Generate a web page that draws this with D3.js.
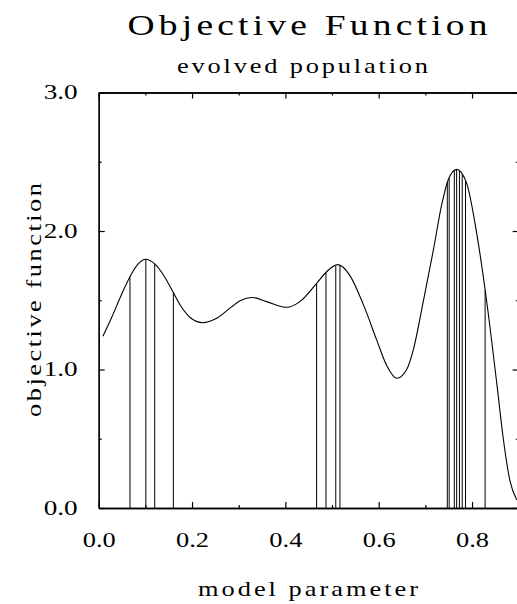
<!DOCTYPE html>
<html>
<head>
<meta charset="utf-8">
<script src="https://cdn.jsdelivr.net/npm/d3@7"></script>
<style>
  html, body { margin: 0; padding: 0; background: #fff; }
  svg { display: block; }
  text { font-family: "Liberation Serif", "DejaVu Serif", serif; fill: #000; }
</style>
</head>
<body>
<svg id="chart" width="517" height="604"></svg>
<script>
// ---- data ----
const curveX = [0.009, 0.027, 0.048, 0.067, 0.084, 0.101, 0.120, 0.141, 0.157, 0.177, 0.198, 0.2235,
  0.2485, 0.284, 0.303, 0.329, 0.360, 0.403, 0.431, 0.467, 0.4885, 0.512, 0.538, 0.567, 0.596, 0.617,
  0.6385, 0.660, 0.674, 0.6955, 0.717, 0.735, 0.749, 0.767, 0.7885, 0.810, 0.831, 0.853, 0.867, 0.881, 0.896];
const curveY = [1.24, 1.37, 1.535, 1.67, 1.76, 1.796, 1.762, 1.67, 1.574, 1.453, 1.37, 1.338,
  1.362, 1.45, 1.497, 1.52, 1.49, 1.449, 1.49, 1.622, 1.706, 1.757, 1.68, 1.47, 1.21, 1.03,
  0.937, 1.00, 1.14, 1.49, 1.86, 2.19, 2.37, 2.445, 2.344, 1.983, 1.502, 0.90, 0.50, 0.20, 0.058];
const popX = [0.067, 0.101, 0.120, 0.160, 0.467, 0.487, 0.508, 0.517,
  0.747, 0.751, 0.762, 0.767, 0.773, 0.779, 0.786, 0.828];
const popY = [1.67, 1.796, 1.762, 1.556, 1.622, 1.70, 1.75, 1.75,
  2.35, 2.38, 2.435, 2.445, 2.435, 2.41, 2.36, 1.57];
const xMajorTicks = [0.0, 0.2, 0.4, 0.6, 0.8];
const xMinorTicks = [0.1, 0.3, 0.5, 0.7, 0.9];
const yMajorTicks = [0.0, 1.0, 2.0, 3.0];
const yMinorTicks = [0.5, 1.5, 2.5];
const title = "Objective Function";
const subtitle = "evolved population";
const xTitle = "model parameter";
const yTitle = "objective function";

// ---- layout ----
const svg = d3.select("#chart");
const L = 98.7, R = 518.7, T = 92.5, B = 508;
const x = d3.scaleLinear().domain([0, 0.9]).range([L, R]);
const y = d3.scaleLinear().domain([0, 3]).range([B, T]);

svg.append("rect").attr("width", 517).attr("height", 604).attr("fill", "#fff");

// population lines
svg.append("g").selectAll("line").data(popX).join("line")
  .attr("x1", d => x(d)).attr("x2", d => x(d))
  .attr("y1", y(0)).attr("y2", (d, i) => y(popY[i]))
  .attr("stroke", "#000").attr("stroke-width", 1);

// curve
const line = d3.line().x(d => x(d[0])).y(d => y(d[1])).curve(d3.curveMonotoneX);
svg.append("path").datum(curveX.map((v, i) => [v, curveY[i]]))
  .attr("d", line).attr("fill", "none").attr("stroke", "#000").attr("stroke-width", 1.1);

// axes
function styleAxis(g) {
  g.selectAll("path.domain").attr("stroke", "#000").attr("stroke-width", 1.3);
  g.selectAll(".tick line").attr("stroke", "#000").attr("stroke-width", 1.2);
}
const fmt = d3.format(".1f");
function styleLabels(g, len) {
  g.selectAll("text").attr("font-size", 20).attr("textLength", len).attr("lengthAdjust", "spacingAndGlyphs");
}
// bottom
svg.append("g").attr("transform", `translate(0,${B})`)
  .call(d3.axisBottom(x).tickValues(xMajorTicks).tickSize(-6).tickSizeOuter(0).tickPadding(25).tickFormat(fmt))
  .call(styleAxis).call(g => styleLabels(g, 33));
svg.append("g").attr("transform", `translate(0,${B})`)
  .call(d3.axisBottom(x).tickValues(xMinorTicks).tickSize(-3).tickSizeOuter(0).tickFormat(""))
  .call(styleAxis);
// top
svg.append("g").attr("transform", `translate(0,${T})`)
  .call(d3.axisTop(x).tickValues(xMajorTicks).tickSize(-6).tickSizeOuter(0).tickFormat(""))
  .call(styleAxis);
svg.append("g").attr("transform", `translate(0,${T})`)
  .call(d3.axisTop(x).tickValues(xMinorTicks).tickSize(-3).tickSizeOuter(0).tickFormat(""))
  .call(styleAxis);
// left
svg.append("g").attr("transform", `translate(${L},0)`)
  .call(d3.axisLeft(y).tickValues(yMajorTicks).tickSize(-6).tickSizeOuter(0).tickPadding(21).tickFormat(fmt))
  .call(styleAxis).call(g => styleLabels(g, 34));
svg.append("g").attr("transform", `translate(${L},0)`)
  .call(d3.axisLeft(y).tickValues(yMinorTicks).tickSize(-3).tickSizeOuter(0).tickFormat(""))
  .call(styleAxis);
// right
svg.append("g").attr("transform", `translate(${R},0)`)
  .call(d3.axisRight(y).tickValues(yMajorTicks).tickSize(-6).tickSizeOuter(0).tickFormat(""))
  .call(styleAxis);
svg.append("g").attr("transform", `translate(${R},0)`)
  .call(d3.axisRight(y).tickValues(yMinorTicks).tickSize(-3).tickSizeOuter(0).tickFormat(""))
  .call(styleAxis);

// titles: glyphs widened slightly, remaining width taken up by letter spacing
function addText(str, cx, cy, size, len, rot, sx) {
  svg.append("text")
    .attr("transform", `translate(${cx},${cy}) rotate(${rot}) scale(${sx},1)`)
    .attr("text-anchor", "middle").attr("font-size", size)
    .attr("textLength", len / sx).attr("lengthAdjust", "spacing").text(str);
}
addText(title, 307.5, 35, 30, 360, 0, 1.25);
addText(subtitle, 302.5, 73, 22, 251, 0, 1.2);
addText(xTitle, 308, 596, 22, 220, 0, 1.2);
addText(yTitle, 41, 300, 22, 234, -90, 1.2);
</script>
</body>
</html>
